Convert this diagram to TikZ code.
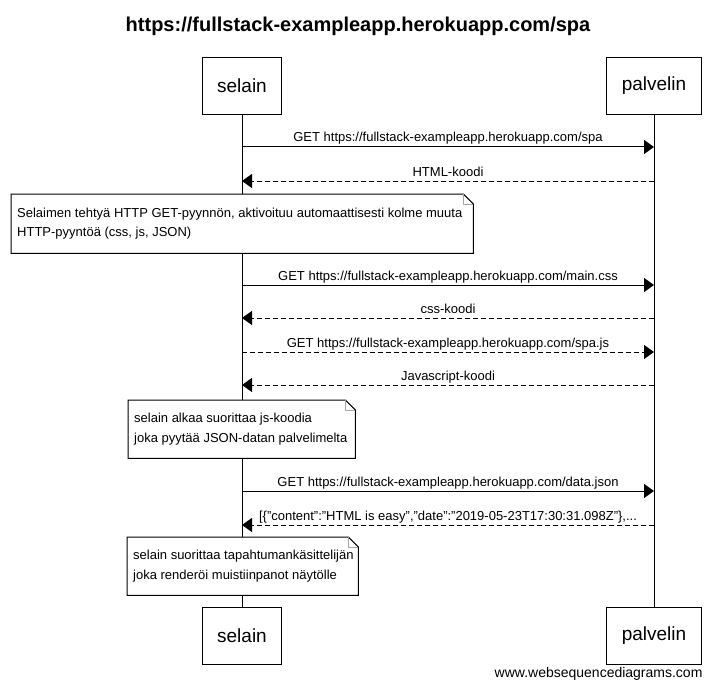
\documentclass[tikz,border=0pt]{standalone}
\usepackage{fontspec}
\setmainfont{Liberation Sans}
\usetikzlibrary{arrows.meta}
\usetikzlibrary{calc}
\usetikzlibrary{positioning}
\newcommand*{\msgfont}{\fontsize{13}{19}\selectfont}
\newcommand*{\dq}{\char34\relax}
\newcommand{\drawNoteFrame}[1]{
	%Outline of a note with a folded corner
	\draw[line width=1pt, line join=miter] (#1.north west) -- ($(#1.north east)+(-10,0)$) -- ($(#1.north east)+(0,10)$) -- (#1.south east) -- (#1.south west) -- cycle;
	\draw[gray!70, line width=0.6pt] ($(#1.north east)+(-10,0)$) -- ($(#1.north east)+(-10,10)$) -- ($(#1.north east)+(0,10)$);
}

\begin{document}
\begin{tikzpicture}[x=1pt, y=-1pt]
		\tikzstyle{Actor} = [draw=black, line width=1pt, fill=white, minimum height=57pt, inner xsep=15pt, font=\fontsize{19}{22}\selectfont]
		\tikzstyle{Lifeline} = [line width=1pt, black]
		\tikzstyle{Call} = [line width=1pt, black, -{Triangle[length=10pt, width=14pt]}]
		\tikzstyle{Reply} = [Call, dash pattern=on 5pt off 3pt]
		\tikzstyle{Label} = [midway, anchor=base, inner sep=0pt, yshift=5pt, font=\msgfont]
		\tikzstyle{NoteBox} = [fill=white, draw=none, anchor=north west, inner sep=0pt]
		\tikzstyle{NoteText} = [align=left, inner sep=0pt, font=\fontsize{13}{19.5}\selectfont]

		\useasboundingbox (0,0) rectangle (715,690);

		%Title
		\node[anchor=base, font=\bfseries\fontsize{20}{24}\selectfont] (Title) at (358,32) {https://fullstack-exampleapp.herokuapp.com/spa};

		%Draw participants
		\node[Actor] (SelTop) at (242,86) {selain};
		\node[Actor] (PalTop) at (654,86) {palvelin};
		\node[Actor] (SelBot) at (242,636) {selain};
		\node[Actor] (PalBot) at (654,636) {palvelin};

		%Draw lifelines
		\draw[Lifeline] (SelTop) -- (SelBot);
		\draw[Lifeline] (PalTop) -- (PalBot);

		%Messages
		\coordinate (M1s) at (242,147);
		\coordinate (M1p) at (654,147);
		\draw[Call] (M1s) -- (M1p) node[Label] {GET https://fullstack-exampleapp.herokuapp.com/spa};

		\coordinate (M2s) at (242,181);
		\coordinate (M2p) at (654,181);
		\draw[Reply] (M2p) -- (M2s) node[Label] {HTML-koodi};

		%First note
		\node[NoteBox, minimum width=462pt, minimum height=59pt] (N1) at (11,194) {};
		\drawNoteFrame{N1}
		\node[NoteText, right=6pt of N1.west] (N1t) {Selaimen tehtyä HTTP GET-pyynnön, aktivoituu automaattisesti kolme muuta\\HTTP-pyyntöä (css, js, JSON)};

		\coordinate (M3s) at (242,285);
		\coordinate (M3p) at (654,285);
		\draw[Call] (M3s) -- (M3p) node[Label] {GET https://fullstack-exampleapp.herokuapp.com/main.css};

		\coordinate (M4s) at (242,318);
		\coordinate (M4p) at (654,318);
		\draw[Reply] (M4p) -- (M4s) node[Label] {css-koodi};

		\coordinate (M5s) at (242,352);
		\coordinate (M5p) at (654,352);
		\draw[Reply] (M5s) -- (M5p) node[Label] {GET https://fullstack-exampleapp.herokuapp.com/spa.js};

		\coordinate (M6s) at (242,385);
		\coordinate (M6p) at (654,385);
		\draw[Reply] (M6p) -- (M6s) node[Label] {Javascript-koodi};

		%Second note
		\node[NoteBox, minimum width=227pt, minimum height=58pt] (N2) at (128,400) {};
		\drawNoteFrame{N2}
		\node[NoteText, right=6pt of N2.west] (N2t) {selain alkaa suorittaa js-koodia\\joka pyytää JSON-datan palvelimelta};

		\coordinate (M7s) at (242,491);
		\coordinate (M7p) at (654,491);
		\draw[Call] (M7s) -- (M7p) node[Label] {GET https://fullstack-exampleapp.herokuapp.com/data.json};

		\coordinate (M8s) at (242,525);
		\coordinate (M8p) at (654,525);
		\draw[Reply] (M8p) -- (M8s) node[Label] {[\{\dq content\dq:\dq HTML is easy\dq,\dq date\dq:\dq 2019-05-23T17:30:31.098Z\dq\},...};

		%Third note
		\node[NoteBox, minimum width=231pt, minimum height=58pt] (N3) at (127,537) {};
		\drawNoteFrame{N3}
		\node[NoteText, right=6pt of N3.west] (N3t) {selain suorittaa tapahtumankäsittelijän\\joka renderöi muistiinpanot näytölle};

		%Footer
		\node[anchor=base east, font=\fontsize{14}{16}\selectfont] (Footer) at (706,677) {www.websequencediagrams.com};
	\end{tikzpicture}
\end{document}
